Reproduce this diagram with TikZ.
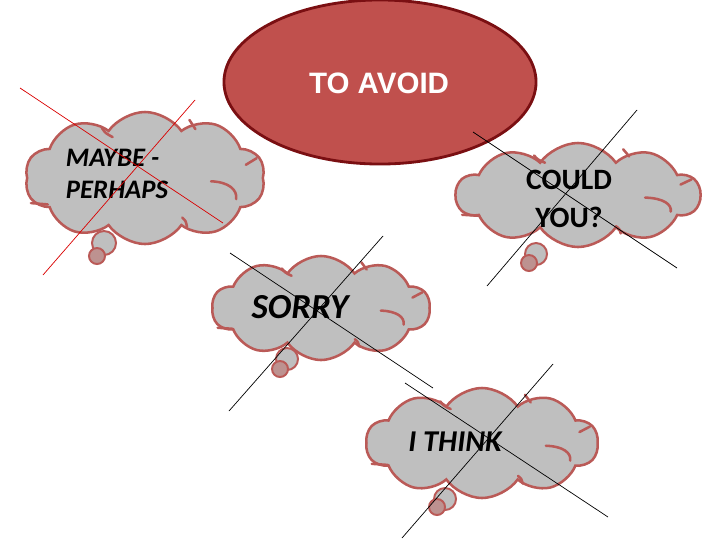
\documentclass[tikz,border=0pt]{standalone}
\usepackage{fontspec}
\setmainfont{Carlito}
\newfontfamily\arialfont{Liberation Sans}
\usetikzlibrary{shapes.symbols,shapes.geometric}

\definecolor{avoidred}{HTML}{C0504D}
\definecolor{avoiddark}{HTML}{7A0F12}
\definecolor{cloudgray}{HTML}{BFBFBF}
\definecolor{cloudedge}{HTML}{BA5A57}

\tikzset{
thought/.style={cloud,cloud puffs=10,cloud puff arc=110,cloud ignores aspect,
  draw=cloudedge,fill=cloudgray,line width=1.8pt,inner sep=0pt},
bubble/.style={circle,draw=cloudedge,fill=cloudgray,line width=1.4pt,inner sep=0pt},
dot/.style={bubble,fill=cloudedge!45!cloudgray},
cloudline/.style={cloudedge,line width=1.8pt,line cap=round},
crossred/.style={red!85!black,line width=0.5pt},
crossblack/.style={black,line width=0.5pt},
word/.style={text=black}
}

% inner strokes of a cloud: name, half width, half height
\newcommand\cloudlines[3]{
 \begin{scope}[shift={(#1.center)},x=#2,y=#3]
  \draw[cloudline] (-0.36,0.76) .. controls (-0.33,0.68) .. (-0.27,0.62);
  \draw[cloudline] (0.37,0.88) .. controls (0.39,0.8) .. (0.42,0.74);
  \draw[cloudline] (0.84,0.2) -- (0.93,0.3);
  \draw[cloudline] (0.55,-0.05) .. controls (0.7,-0.06) and (0.77,-0.18) .. (0.76,-0.32);
  \draw[cloudline] (-0.95,-0.38) -- (-0.81,-0.4);
  \draw[cloudline] (0.31,-0.6) .. controls (0.34,-0.65) .. (0.35,-0.74);
 \end{scope}
}

\begin{document}
\begin{tikzpicture}[x=0.025cm,y=-0.025cm]
\useasboundingbox (0,0) rectangle (720,540);

% main topic
\node[ellipse,draw=avoiddark,fill=avoidred,line width=2pt,minimum width=7.8cm,minimum height=4.1cm]
  (avoid) at (380,82) {};
\node[text=white,font=\arialfont\bfseries\fontsize{21}{25}\selectfont] (avoidtxt) at (379,83) {TO AVOID};

% clouds
\node[thought,minimum width=6cm,minimum height=3.3cm] (maybe) at (145,178) {};
\node[thought,minimum width=6.1cm,minimum height=2.6cm] (could) at (578,195) {};
\node[thought,minimum width=5.45cm,minimum height=2.6cm] (sorry) at (321,308) {};
\node[thought,minimum width=5.8cm,minimum height=2.75cm] (think) at (482,443) {};

\cloudlines{maybe}{3cm}{1.65cm}
\cloudlines{could}{3.05cm}{1.3cm}
\cloudlines{sorry}{2.72cm}{1.3cm}
\cloudlines{think}{2.9cm}{1.37cm}

% small bubbles
\node[bubble,minimum size=0.6cm] (maybeb1) at (104,243) {};
\node[dot,minimum size=0.4cm] (maybeb2) at (97,256) {};
\node[bubble,minimum size=0.55cm] (couldb1) at (536,254) {};
\node[dot,minimum size=0.4cm] (couldb2) at (529,263) {};
\node[bubble,minimum size=0.55cm] (sorryb1) at (287,359) {};
\node[dot,minimum size=0.4cm] (sorryb2) at (280,369) {};
\node[bubble,minimum size=0.55cm] (thinkb1) at (445,499) {};
\node[dot,minimum size=0.4cm] (thinkb2) at (437,507) {};

% texts
\node[word,anchor=west,align=left,font=\bfseries\itshape\fontsize{19}{23}\selectfont] (maybetxt) at (61,174) {MAYBE -\\PERHAPS};
\node[word,align=center,font=\bfseries\fontsize{21}{27}\selectfont] (couldtxt) at (569,199) {COULD\\YOU?};
\node[word,font=\bfseries\itshape\fontsize{25}{30}\selectfont] (sorrytxt) at (300,307) {SORRY};
\node[word,font=\bfseries\itshape\fontsize{21.5}{24}\selectfont] (thinktxt) at (455,442) {I THINK};

% crossing out
\coordinate (m1) at (20,88);   \coordinate (m2) at (223,223);
\coordinate (m3) at (195,100); \coordinate (m4) at (43,275);
\draw[crossred] (m1) -- (m2) (m3) -- (m4);

\coordinate (c1) at (473,132); \coordinate (c2) at (677,268);
\coordinate (c3) at (637,110); \coordinate (c4) at (487,286);
\draw[crossblack] (c1) -- (c2) (c3) -- (c4);

\coordinate (s1) at (230,253); \coordinate (s2) at (433,388);
\coordinate (s3) at (383,236); \coordinate (s4) at (229,411);
\draw[crossblack] (s1) -- (s2) (s3) -- (s4);

\coordinate (t1) at (405,383); \coordinate (t2) at (608,517);
\coordinate (t3) at (553,364); \coordinate (t4) at (402,538);
\draw[crossblack] (t1) -- (t2) (t3) -- (t4);
\end{tikzpicture}
\end{document}
